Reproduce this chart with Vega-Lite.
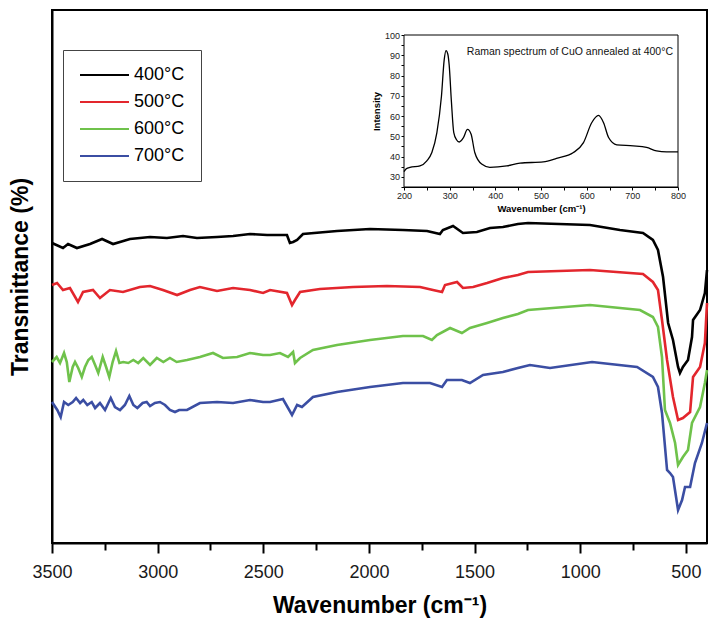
{
"$schema": "https://vega.github.io/schema/vega-lite/v6.json",
"width": 655, "height": 533,
"autosize": "none",
"padding": {"left": 52, "top": 10, "right": 11, "bottom": 84},
"background": "white",
"config": {
  "font": "Liberation Sans",
  "view": {"stroke": "black", "strokeWidth": 2},
  "legend": {"labelFontSize": 18, "labelFont": "Liberation Sans", "labelColor": "black", "symbolType": "stroke", "symbolSize": 2400, "symbolStrokeWidth": 2, "padding": 16, "rowPadding": 9, "clipHeight": 18, "strokeColor": "#444", "labelOffset": 4}
},
"datasets": {
"ftir": [
{"s":"400°C","wn":3500,"t":300},{"s":"400°C","wn":3448,"t":295},{"s":"400°C","wn":3424,"t":299},{"s":"400°C","wn":3382,"t":295},{"s":"400°C","wn":3320,"t":299},{"s":"400°C","wn":3263,"t":304},{"s":"400°C","wn":3211,"t":299},{"s":"400°C","wn":3131,"t":304},{"s":"400°C","wn":3036,"t":306},{"s":"400°C","wn":2956,"t":305},{"s":"400°C","wn":2880,"t":307},{"s":"400°C","wn":2814,"t":305},{"s":"400°C","wn":2719,"t":306},{"s":"400°C","wn":2643,"t":307},{"s":"400°C","wn":2563,"t":309},{"s":"400°C","wn":2482,"t":308},{"s":"400°C","wn":2421,"t":308},{"s":"400°C","wn":2388,"t":308},{"s":"400°C","wn":2374,"t":300},{"s":"400°C","wn":2359,"t":301},{"s":"400°C","wn":2340,"t":303},{"s":"400°C","wn":2312,"t":309},{"s":"400°C","wn":2151,"t":312},{"s":"400°C","wn":1995,"t":314},{"s":"400°C","wn":1839,"t":313},{"s":"400°C","wn":1725,"t":312},{"s":"400°C","wn":1664,"t":309},{"s":"400°C","wn":1650,"t":313},{"s":"400°C","wn":1602,"t":317},{"s":"400°C","wn":1555,"t":310},{"s":"400°C","wn":1489,"t":311},{"s":"400°C","wn":1427,"t":315},{"s":"400°C","wn":1366,"t":316},{"s":"400°C","wn":1295,"t":319},{"s":"400°C","wn":1247,"t":320},{"s":"400°C","wn":954,"t":318},{"s":"400°C","wn":812,"t":313},{"s":"400°C","wn":703,"t":310},{"s":"400°C","wn":656,"t":303},{"s":"400°C","wn":632,"t":293},{"s":"400°C","wn":608,"t":266},{"s":"400°C","wn":584,"t":220},{"s":"400°C","wn":561,"t":203},{"s":"400°C","wn":537,"t":176},{"s":"400°C","wn":528,"t":170},{"s":"400°C","wn":514,"t":176},{"s":"400°C","wn":490,"t":183},{"s":"400°C","wn":471,"t":206},{"s":"400°C","wn":466,"t":223},{"s":"400°C","wn":433,"t":233},{"s":"400°C","wn":410,"t":250},{"s":"400°C","wn":400,"t":273},
{"s":"500°C","wn":3500,"t":258},{"s":"500°C","wn":3476,"t":260},{"s":"500°C","wn":3448,"t":253},{"s":"500°C","wn":3415,"t":255},{"s":"500°C","wn":3377,"t":241},{"s":"500°C","wn":3353,"t":251},{"s":"500°C","wn":3306,"t":253},{"s":"500°C","wn":3273,"t":245},{"s":"500°C","wn":3226,"t":253},{"s":"500°C","wn":3164,"t":251},{"s":"500°C","wn":3084,"t":256},{"s":"500°C","wn":3036,"t":257},{"s":"500°C","wn":2975,"t":253},{"s":"500°C","wn":2908,"t":248},{"s":"500°C","wn":2847,"t":253},{"s":"500°C","wn":2800,"t":256},{"s":"500°C","wn":2719,"t":252},{"s":"500°C","wn":2643,"t":255},{"s":"500°C","wn":2563,"t":253},{"s":"500°C","wn":2501,"t":250},{"s":"500°C","wn":2468,"t":253},{"s":"500°C","wn":2388,"t":250},{"s":"500°C","wn":2364,"t":238},{"s":"500°C","wn":2350,"t":243},{"s":"500°C","wn":2326,"t":251},{"s":"500°C","wn":2232,"t":254},{"s":"500°C","wn":2075,"t":256},{"s":"500°C","wn":1915,"t":257},{"s":"500°C","wn":1758,"t":256},{"s":"500°C","wn":1697,"t":253},{"s":"500°C","wn":1654,"t":251},{"s":"500°C","wn":1640,"t":258},{"s":"500°C","wn":1583,"t":261},{"s":"500°C","wn":1555,"t":255},{"s":"500°C","wn":1507,"t":256},{"s":"500°C","wn":1441,"t":260},{"s":"500°C","wn":1366,"t":265},{"s":"500°C","wn":1295,"t":268},{"s":"500°C","wn":1247,"t":271},{"s":"500°C","wn":954,"t":273},{"s":"500°C","wn":703,"t":269},{"s":"500°C","wn":656,"t":261},{"s":"500°C","wn":632,"t":253},{"s":"500°C","wn":613,"t":223},{"s":"500°C","wn":589,"t":183},{"s":"500°C","wn":561,"t":146},{"s":"500°C","wn":537,"t":123},{"s":"500°C","wn":514,"t":125},{"s":"500°C","wn":480,"t":131},{"s":"500°C","wn":466,"t":166},{"s":"500°C","wn":433,"t":176},{"s":"500°C","wn":410,"t":200},{"s":"500°C","wn":400,"t":240},
{"s":"600°C","wn":3500,"t":181},{"s":"600°C","wn":3478,"t":186},{"s":"600°C","wn":3462,"t":180},{"s":"600°C","wn":3443,"t":190},{"s":"600°C","wn":3430,"t":181},{"s":"600°C","wn":3418,"t":161},{"s":"600°C","wn":3402,"t":176},{"s":"600°C","wn":3391,"t":181},{"s":"600°C","wn":3376,"t":175},{"s":"600°C","wn":3359,"t":166},{"s":"600°C","wn":3344,"t":176},{"s":"600°C","wn":3328,"t":183},{"s":"600°C","wn":3312,"t":186},{"s":"600°C","wn":3296,"t":178},{"s":"600°C","wn":3281,"t":170},{"s":"600°C","wn":3260,"t":186},{"s":"600°C","wn":3244,"t":176},{"s":"600°C","wn":3229,"t":166},{"s":"600°C","wn":3213,"t":181},{"s":"600°C","wn":3197,"t":192},{"s":"600°C","wn":3181,"t":180},{"s":"600°C","wn":3163,"t":181},{"s":"600°C","wn":3139,"t":180},{"s":"600°C","wn":3115,"t":183},{"s":"600°C","wn":3092,"t":180},{"s":"600°C","wn":3068,"t":185},{"s":"600°C","wn":3036,"t":178},{"s":"600°C","wn":3004,"t":185},{"s":"600°C","wn":2973,"t":181},{"s":"600°C","wn":2942,"t":185},{"s":"600°C","wn":2910,"t":181},{"s":"600°C","wn":2861,"t":183},{"s":"600°C","wn":2800,"t":186},{"s":"600°C","wn":2738,"t":190},{"s":"600°C","wn":2691,"t":185},{"s":"600°C","wn":2624,"t":186},{"s":"600°C","wn":2563,"t":190},{"s":"600°C","wn":2501,"t":188},{"s":"600°C","wn":2468,"t":188},{"s":"600°C","wn":2421,"t":190},{"s":"600°C","wn":2383,"t":186},{"s":"600°C","wn":2359,"t":191},{"s":"600°C","wn":2350,"t":180},{"s":"600°C","wn":2326,"t":185},{"s":"600°C","wn":2265,"t":193},{"s":"600°C","wn":2151,"t":198},{"s":"600°C","wn":1995,"t":203},{"s":"600°C","wn":1839,"t":207},{"s":"600°C","wn":1744,"t":207},{"s":"600°C","wn":1702,"t":203},{"s":"600°C","wn":1678,"t":208},{"s":"600°C","wn":1616,"t":215},{"s":"600°C","wn":1560,"t":210},{"s":"600°C","wn":1522,"t":215},{"s":"600°C","wn":1441,"t":220},{"s":"600°C","wn":1366,"t":225},{"s":"600°C","wn":1295,"t":229},{"s":"600°C","wn":1247,"t":233},{"s":"600°C","wn":954,"t":238},{"s":"600°C","wn":717,"t":233},{"s":"600°C","wn":656,"t":226},{"s":"600°C","wn":632,"t":216},{"s":"600°C","wn":613,"t":186},{"s":"600°C","wn":599,"t":133},{"s":"600°C","wn":575,"t":120},{"s":"600°C","wn":551,"t":100},{"s":"600°C","wn":537,"t":78},{"s":"600°C","wn":514,"t":86},{"s":"600°C","wn":490,"t":93},{"s":"600°C","wn":471,"t":120},{"s":"600°C","wn":433,"t":136},{"s":"600°C","wn":410,"t":160},{"s":"600°C","wn":400,"t":173},
{"s":"700°C","wn":3500,"t":141},{"s":"700°C","wn":3475,"t":133},{"s":"700°C","wn":3459,"t":126},{"s":"700°C","wn":3443,"t":141},{"s":"700°C","wn":3423,"t":138},{"s":"700°C","wn":3402,"t":141},{"s":"700°C","wn":3386,"t":145},{"s":"700°C","wn":3367,"t":140},{"s":"700°C","wn":3352,"t":143},{"s":"700°C","wn":3333,"t":138},{"s":"700°C","wn":3312,"t":141},{"s":"700°C","wn":3296,"t":135},{"s":"700°C","wn":3273,"t":140},{"s":"700°C","wn":3249,"t":133},{"s":"700°C","wn":3222,"t":145},{"s":"700°C","wn":3202,"t":136},{"s":"700°C","wn":3178,"t":133},{"s":"700°C","wn":3155,"t":138},{"s":"700°C","wn":3134,"t":147},{"s":"700°C","wn":3115,"t":138},{"s":"700°C","wn":3096,"t":135},{"s":"700°C","wn":3071,"t":140},{"s":"700°C","wn":3052,"t":141},{"s":"700°C","wn":3036,"t":137},{"s":"700°C","wn":3013,"t":140},{"s":"700°C","wn":2989,"t":141},{"s":"700°C","wn":2965,"t":138},{"s":"700°C","wn":2942,"t":133},{"s":"700°C","wn":2918,"t":131},{"s":"700°C","wn":2898,"t":133},{"s":"700°C","wn":2861,"t":133},{"s":"700°C","wn":2800,"t":140},{"s":"700°C","wn":2719,"t":141},{"s":"700°C","wn":2643,"t":140},{"s":"700°C","wn":2563,"t":143},{"s":"700°C","wn":2501,"t":141},{"s":"700°C","wn":2468,"t":141},{"s":"700°C","wn":2407,"t":144},{"s":"700°C","wn":2364,"t":128},{"s":"700°C","wn":2340,"t":138},{"s":"700°C","wn":2317,"t":136},{"s":"700°C","wn":2265,"t":146},{"s":"700°C","wn":2151,"t":151},{"s":"700°C","wn":1995,"t":156},{"s":"700°C","wn":1839,"t":160},{"s":"700°C","wn":1711,"t":160},{"s":"700°C","wn":1654,"t":156},{"s":"700°C","wn":1631,"t":163},{"s":"700°C","wn":1560,"t":163},{"s":"700°C","wn":1522,"t":160},{"s":"700°C","wn":1460,"t":168},{"s":"700°C","wn":1366,"t":171},{"s":"700°C","wn":1295,"t":175},{"s":"700°C","wn":1238,"t":178},{"s":"700°C","wn":1143,"t":175},{"s":"700°C","wn":944,"t":181},{"s":"700°C","wn":731,"t":176},{"s":"700°C","wn":656,"t":166},{"s":"700°C","wn":632,"t":156},{"s":"700°C","wn":613,"t":130},{"s":"700°C","wn":589,"t":73},{"s":"700°C","wn":575,"t":70},{"s":"700°C","wn":561,"t":66},{"s":"700°C","wn":537,"t":33},{"s":"700°C","wn":518,"t":43},{"s":"700°C","wn":504,"t":56},{"s":"700°C","wn":480,"t":56},{"s":"700°C","wn":457,"t":80},{"s":"700°C","wn":424,"t":100},{"s":"700°C","wn":400,"t":120}
],
"raman": [
{"w":200,"i":32.6},{"w":205,"i":34.0},{"w":213,"i":34.7},{"w":235,"i":35.4},{"w":250,"i":37.9},{"w":261,"i":42.0},{"w":272,"i":51.8},{"w":282,"i":69.8},{"w":288,"i":87.7},{"w":292,"i":92.3},{"w":296,"i":90.5},{"w":299,"i":85.0},{"w":304,"i":66.5},{"w":309,"i":51.8},{"w":315,"i":48.3},{"w":321,"i":47.2},{"w":330,"i":49.3},{"w":339,"i":53.4},{"w":347,"i":51.0},{"w":355,"i":42.0},{"w":370,"i":36.3},{"w":388,"i":34.7},{"w":425,"i":35.4},{"w":454,"i":36.8},{"w":505,"i":37.4},{"w":534,"i":39.1},{"w":571,"i":42.0},{"w":593,"i":46.9},{"w":611,"i":56.7},{"w":626,"i":60.3},{"w":637,"i":56.7},{"w":648,"i":49.4},{"w":666,"i":45.8},{"w":702,"i":45.3},{"w":731,"i":44.5},{"w":753,"i":42.8},{"w":775,"i":42.3},{"w":800,"i":42.3}
]
},
"resolve": {"scale": {"x": "independent", "y": "independent"}},
"layer": [
{
  "data": {"name": "ftir"},
  "mark": {"type": "line", "strokeWidth": 2.6},
  "encoding": {
    "x": {"field": "wn", "type": "quantitative",
      "scale": {"domain": [400, 3500], "reverse": true, "nice": false, "zero": false},
      "axis": {"orient": "bottom", "values": [3500,3250,3000,2750,2500,2250,2000,1750,1500,1250,1000,750,500], "format": "d",
        "labelExpr": "datum.value % 500 === 0 ? datum.label : ''",
        "tickSize": {"condition": {"test": "datum.value % 500 === 0", "value": 10}, "value": 7},
        "tickWidth": 2, "tickColor": "black", "domainColor": "black", "domainWidth": 2,
        "labelFontSize": 18, "labelColor": "#1a1a1a", "labelPadding": 10, "labelFlush": false, "labelOverlap": false,
        "grid": false, "title": "Wavenumber (cm⁻¹)", "titleFontSize": 23, "titleFontWeight": "bold", "titleColor": "black", "titlePadding": 13}},
    "y": {"field": "t", "type": "quantitative",
      "scale": {"domain": [0, 533], "nice": false, "zero": false},
      "axis": {"orient": "left", "ticks": false, "labels": false, "grid": false, "domainColor": "black", "domainWidth": 2,
        "title": "Transmittance (%)", "titleFontSize": 23, "titleFontWeight": "bold", "titleColor": "black", "titlePadding": 20}},
    "color": {"field": "s", "type": "nominal",
      "scale": {"domain": ["400°C","500°C","600°C","700°C"], "range": ["#000000","#e3262d","#6fc24b","#3b4ea3"]},
      "legend": {"title": null, "orient": "none", "legendX": 11, "legendY": 40}}
  }
},
{
  "encoding": {
    "x": {"field": "w", "type": "quantitative",
      "scale": {"domain": [200, 800], "range": [352, 626], "nice": false, "zero": false},
      "axis": {"orient": "bottom", "offset": -356, "values": [200,250,300,350,400,450,500,550,600,650,700,750,800], "format": "d",
        "labelExpr": "datum.value % 100 === 0 ? datum.label : ''",
        "tickSize": 3, "tickWidth": 1, "tickColor": "black", "domainColor": "black", "domainWidth": 1,
        "labelFontSize": 9, "labelColor": "#222", "labelPadding": 1, "labelFlush": false, "labelOverlap": false, "grid": false,
        "title": "Wavenumber (cm⁻¹)", "titleFontSize": 9.5, "titleFontWeight": "bold", "titleColor": "black", "titlePadding": 3}},
    "y": {"field": "i", "type": "quantitative",
      "scale": {"domain": [25, 100], "range": [177, 25], "nice": false, "zero": false},
      "axis": {"orient": "left", "offset": -352, "values": [25,30,35,40,45,50,55,60,65,70,75,80,85,90,95,100],
        "labelExpr": "datum.value % 10 === 0 ? datum.label : ''",
        "tickSize": 3, "tickWidth": 1, "tickColor": "black", "domainColor": "black", "domainWidth": 1,
        "labelFontSize": 9, "labelColor": "#222", "labelPadding": 1.5, "labelFlush": false, "labelOverlap": false, "grid": false,
        "title": "Intensity", "titleFontSize": 9.5, "titleFontWeight": "bold", "titleColor": "black", "titlePadding": 3}}
  },
  "layer": [
    {"data": {"values": [{"w": 200, "w2": 800, "i": 25, "i2": 100}]},
     "mark": {"type": "rect", "fill": "white", "stroke": "black", "strokeWidth": 1},
     "encoding": {"x2": {"field": "w2"}, "y2": {"field": "i2"}}},
    {"data": {"name": "raman"},
     "mark": {"type": "line", "color": "black", "strokeWidth": 1.3, "interpolate": "monotone"}},
    {"data": {"values": [{"w": 789, "i": 91.8, "label": "Raman spectrum of CuO annealed at 400°C"}]},
     "mark": {"type": "text", "align": "right", "baseline": "middle", "fontSize": 10.5, "color": "#111"},
     "encoding": {"text": {"field": "label"}}}
  ]
}
]
}
